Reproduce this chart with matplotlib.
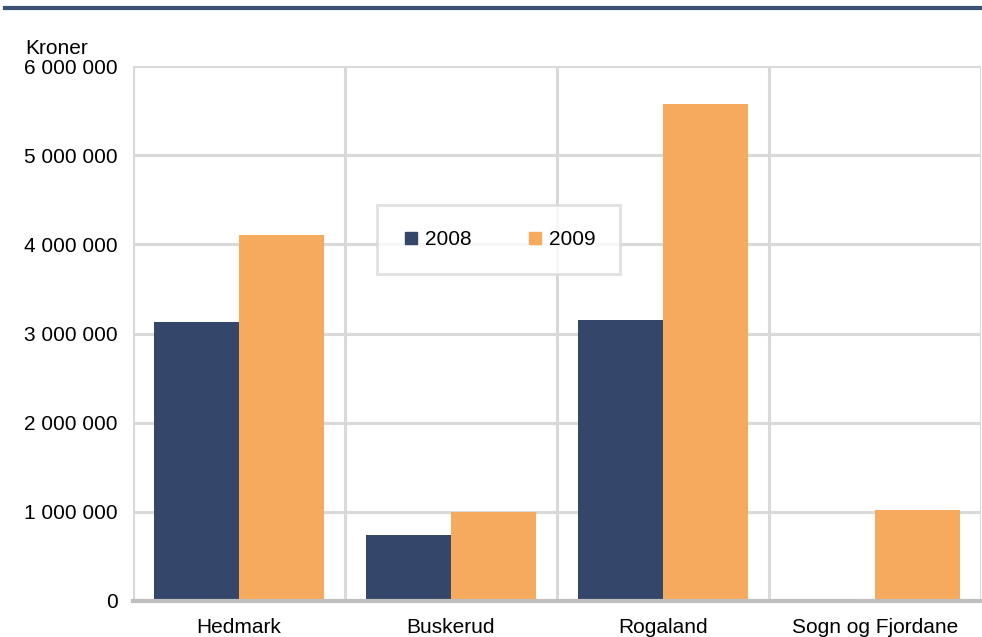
import matplotlib
matplotlib.use("Agg")
import matplotlib.pyplot as plt
import numpy as np
from matplotlib.ticker import FuncFormatter
from matplotlib.lines import Line2D

plt.rcParams['font.family'] = ['Liberation Sans', 'DejaVu Sans']

categories = ["Hedmark", "Buskerud", "Rogaland", "Sogn og Fjordane"]
series_names = ["2008", "2009"]
values_2008 = [3130000, 740000, 3150000, 0]
values_2009 = [4100000, 1000000, 5570000, 1020000]
yticks = [0, 1000000, 2000000, 3000000, 4000000, 5000000, 6000000]

c2008 = "#34476b"
c2009 = "#f6aa5e"
grid_c = "#d9d9d9"
fs = 15

fig = plt.figure(figsize=(9.82, 6.37), dpi=100)
ax = fig.add_axes([133/982, 1-601/637, 848/982, (601-66)/637])

x = np.arange(len(categories))
w = 0.4
ax.bar(x - w/2, values_2008, width=w, color=c2008, zorder=3)
ax.bar(x + w/2, values_2009, width=w, color=c2009, zorder=3)

ax.set_xlim(-0.5, len(categories) - 0.5)
ax.set_ylim(0, 6000000)
ax.set_yticks(yticks)
ax.yaxis.set_major_formatter(FuncFormatter(lambda v, p: f"{int(v):,}".replace(",", " ")))
ax.set_xticks(x)
ax.set_xticklabels(categories)
ax.tick_params(axis='both', length=0, labelsize=fs, colors="black")
ax.tick_params(axis='y', pad=11)
ax.tick_params(axis='x', pad=12)

for yv in yticks[1:]:
    ax.axhline(yv, color=grid_c, lw=2.2, zorder=1)
for xv in np.arange(-0.5, len(categories), 1.0):
    ax.axvline(xv, color=grid_c, lw=2.2, zorder=1)

for s in ['top', 'right', 'left']:
    ax.spines[s].set_visible(False)
ax.spines['bottom'].set_color("#bfbfbf")
ax.spines['bottom'].set_linewidth(3)
ax.spines['bottom'].set_zorder(4)

handles = [Line2D([], [], marker='s', color='none', markerfacecolor=c, markeredgecolor=c, markersize=9)
           for c in (c2008, c2009)]
leg = ax.legend(handles, series_names, ncol=2, loc='upper left',
                bbox_to_anchor=((377-133)/848, (601-205)/535), frameon=True,
                fancybox=False, fontsize=fs, handletextpad=0.2, columnspacing=2.6,
                borderpad=1.2, borderaxespad=0, handlelength=0.9)
leg.get_frame().set_edgecolor(grid_c)
leg.get_frame().set_linewidth(2)
leg.set_zorder(5)

fig.text(25/982, 1-48/637, "Kroner", fontsize=fs, va='center', ha='left')
fig.add_artist(Line2D([5/982, 1.0], [1-8/637, 1-8/637], color="#3b5277", lw=3))

fig.savefig("out.png", dpi=100)
